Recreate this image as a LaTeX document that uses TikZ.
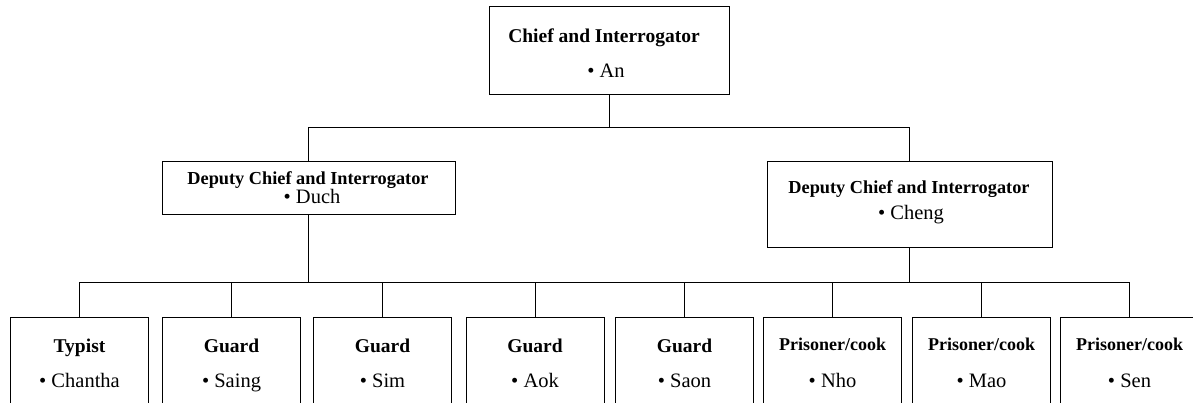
\documentclass[tikz,border=0pt]{standalone}
\usepackage{fontspec}
\setmainfont{Liberation Serif}
\tikzset{
  post/.style={draw, line width=1pt, inner sep=0pt},
  staff/.style={post, minimum width=138pt, minimum height=130pt},
  role/.style={font=\bfseries\fontsize{19.5}{19.5}\selectfont, anchor=base, inner sep=0pt},
  small role/.style={role, font=\bfseries\fontsize{18}{18}\selectfont},
  who/.style={font=\fontsize{20.5}{20.5}\selectfont, anchor=base, inner sep=0pt},
}
\begin{document}
\begin{tikzpicture}[x=1pt, y=-1pt, line width=1pt]
\clip (0,0) rectangle (1193,403);
% chief
\node[post, minimum width=240pt, minimum height=88pt] (pos0) at (609,51){};
\node[role, font=\bfseries\fontsize{19.5}{19.5}\selectfont] (ttl0) at (604,43){Chief and Interrogator};
\node[who] (who0) at (606,78){\textbullet\ An};
% deputies
\node[post, minimum width=293pt, minimum height=53pt] (pos1) at (308.5,188.5){};
\node[role, font=\bfseries\fontsize{18.3}{18.3}\selectfont] (ttl1) at (308,185){Deputy Chief and Interrogator};
\node[who] (who1) at (312,204){\textbullet\ Duch};
\node[post, minimum width=285pt, minimum height=86pt] (pos2) at (909.5,205){};
\node[role, font=\bfseries\fontsize{18.3}{18.3}\selectfont] (ttl2) at (909,194){Deputy Chief and Interrogator};
\node[who] (who2) at (911,220){\textbullet\ Cheng};
% staff
\node[staff] (pos3) at (79.5,382){};
\node[role] (ttl3) at (79.5,352){Typist};
\node[who] (who3) at (79.5,387){\textbullet\ Chantha};
\node[staff] (pos4) at (231.5,382){};
\node[role] (ttl4) at (231.5,352){Guard};
\node[who] (who4) at (231.5,387){\textbullet\ Saing};
\node[staff] (pos5) at (382.5,382){};
\node[role] (ttl5) at (382.5,352){Guard};
\node[who] (who5) at (382.5,387){\textbullet\ Sim};
\node[staff] (pos6) at (535,382){};
\node[role] (ttl6) at (535,352){Guard};
\node[who] (who6) at (535,387){\textbullet\ Aok};
\node[staff] (pos7) at (684.5,382){};
\node[role] (ttl7) at (684.5,352){Guard};
\node[who] (who7) at (684.5,387){\textbullet\ Saon};
\node[staff] (pos8) at (832.5,382){};
\node[small role] (ttl8) at (832.5,350){Prisoner/cook};
\node[who] (who8) at (832.5,387){\textbullet\ Nho};
\node[staff] (pos9) at (981.5,382){};
\node[small role] (ttl9) at (981.5,350){Prisoner/cook};
\node[who] (who9) at (981.5,387){\textbullet\ Mao};
\node[staff] (pos10) at (1129.5,382){};
\node[small role] (ttl10) at (1129.5,350){Prisoner/cook};
\node[who] (who10) at (1129.5,387){\textbullet\ Sen};
% buses
\coordinate (bus0) at (0,128);
\coordinate (bus1) at (0,282);
\draw[](pos0) -- (pos0.south |- bus0);
\draw[](pos1) -- (pos1.north |- bus0) -- (bus0 -| pos2.north) -- (pos2);
\draw[](pos1) -- (pos1.south |- bus1);
\draw[](pos2) -- (pos2.south |- bus1);
\draw[](pos3) -- (pos3.north |- bus1) -- (bus1 -| pos10.north) -- (pos10);
\draw[](pos4) -- (pos4.north |- bus1);
\draw[](pos5) -- (pos5.north |- bus1);
\draw[](pos6) -- (pos6.north |- bus1);
\draw[](pos7) -- (pos7.north |- bus1);
\draw[](pos8) -- (pos8.north |- bus1);
\draw[](pos9) -- (pos9.north |- bus1);
\end{tikzpicture}
\end{document}
